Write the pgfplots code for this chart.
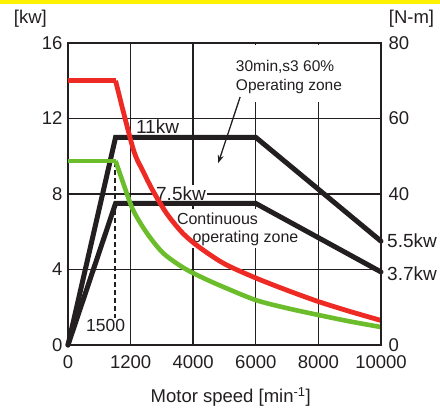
\documentclass[border=0pt]{standalone}
\usepackage{pgfplots}
\pgfplotsset{compat=1.18}
\usetikzlibrary{arrows.meta}
\usepackage{fontspec}
\setmainfont{Liberation Sans}
\definecolor{cblack}{HTML}{231F20}
\definecolor{cred}{HTML}{EE2A24}
\definecolor{cgreen}{HTML}{6CBD2C}
\definecolor{cyellow}{HTML}{FFF200}
\begin{document}
\begin{tikzpicture}[x=1pt,y=1pt]
\path[use as bounding box] (0,0) rectangle (440,409);
\fill[cyellow] (0,405) rectangle (440,409);
\begin{axis}[
  at={(68pt,64pt)}, anchor=south west,
  scale only axis, width=313pt, height=302pt,
  xmin=0, xmax=5, ymin=0, ymax=16,
  xtick={0,1,2,3,4,5},
  xticklabels={0,1200,4000,6000,8000,10000},
  ytick={0,4,8,12,16},
  grid=major,
  major grid style={cblack, line width=1.4pt},
  major tick length=0pt,
  axis line style={cblack, line width=1.8pt},
  tick label style={font=\fontsize{18.5}{20}\selectfont, text=cblack},
  /pgf/number format/assume math mode=true,
  xticklabel style={yshift=-7pt},
  yticklabel style={xshift=-2pt},
  clip=false,
]
% white area hiding grid behind the annotation
\fill[white] (axis cs:2.62,12.85) rectangle (axis cs:4.45,15.92);
\node[anchor=west, align=left, font=\fontsize{15.5}{19}\selectfont, text=cblack, inner sep=0pt]
  at (axis cs:2.68,14.2) {30min,s3 60\%\\Operating zone};
\draw[cblack, line width=1.3pt, -{Stealth[length=8pt,width=6pt]}]
  (axis cs:2.75,13.14) -- (axis cs:2.40,9.64);

% dashed 1500 line
\addplot[cblack, line width=1.4pt, dash pattern=on 5pt off 3pt] coordinates {(0.75,1.4) (0.75,9.75)};

% labels with white background
\node[fill=white, inner sep=1pt, font=\fontsize{19}{20}\selectfont, text=cblack] at (axis cs:1.43,11.58) {11kw};
\node[fill=white, inner sep=1pt, font=\fontsize{19}{20}\selectfont, text=cblack] at (axis cs:1.805,8.03) {7.5kw};
\node[fill=white, inner xsep=1pt, inner ysep=4pt, font=\fontsize{16}{18}\selectfont, text=cblack] at (axis cs:2.388,6.68) {Continuous};
\node[fill=white, inner xsep=1pt, inner ysep=3pt, font=\fontsize{16}{18}\selectfont, text=cblack] at (axis cs:2.835,5.67) {operating zone};
\node[fill=white, inner sep=1pt, font=\fontsize{17.5}{20}\selectfont, text=cblack] at (axis cs:0.6,1.03) {1500};

% black envelopes
\addplot[cblack, line width=5pt, line cap=round] coordinates {(0,0) (0.76,11) (3,11) (5,5.5)};
\addplot[cblack, line width=5pt, line cap=round] coordinates {(0,0) (0.76,7.5) (3,7.5) (5,3.87)};

% green curve
\addplot[cgreen, line width=4.6pt] coordinates {(0,9.75) (0.76,9.75)};
\addplot[cgreen, line width=4.6pt, smooth, tension=0.5] coordinates {
  (0.76,9.75) (0.88,8.6) (1.04,7.15) (1.26,5.93) (1.52,4.87) (1.84,4.1)
  (2.16,3.55) (2.5,3.05) (3,2.38) (3.5,1.95) (4,1.59) (4.5,1.25) (5,0.95)};

% red curve
\addplot[cred, line width=4.8pt] coordinates {(0,14) (0.76,14)};
\addplot[cred, line width=4.8pt, smooth, tension=0.5] coordinates {
  (0.76,14) (1.04,10.4) (1.2,9.2) (1.36,8.15) (1.58,6.95) (1.84,5.9)
  (2.11,5.15) (2.5,4.3) (3,3.55) (3.5,2.9) (4,2.3) (4.5,1.78) (5,1.3)};

% right-hand labels
\node[anchor=west, inner sep=0pt, font=\fontsize{19}{20}\selectfont, text=cblack] at (axis cs:5.096,5.5) {5.5kw};
\node[anchor=west, inner sep=0pt, font=\fontsize{19}{20}\selectfont, text=cblack] at (axis cs:5.096,3.8) {3.7kw};

% unit labels and x label
\node[font=\fontsize{18.5}{20}\selectfont, text=cblack] at (axis cs:-0.6,17.27) {[kw]};
\node[font=\fontsize{18.5}{20}\selectfont, text=cblack] at (axis cs:5.487,17.27) {[N-m]};
\node[font=\fontsize{18.5}{20}\selectfont, text=cblack] at (axis cs:2.6,-2.76) {Motor speed [min\textsuperscript{-1}]};
\end{axis}
\begin{axis}[
  at={(68pt,64pt)}, anchor=south west,
  scale only axis, width=313pt, height=302pt,
  xmin=0, xmax=5, ymin=0, ymax=80,
  axis x line=none,
  axis y line*=right,
  ytick={0,40,60,80},
  major tick length=0pt,
  axis line style={cblack, line width=1.8pt},
  tick label style={font=\fontsize{18.5}{20}\selectfont, text=cblack},
  /pgf/number format/assume math mode=true,
  yticklabel style={xshift=4pt},
]
\addplot[draw=none] coordinates {(0,0)};
\end{axis}
\end{tikzpicture}
\end{document}
